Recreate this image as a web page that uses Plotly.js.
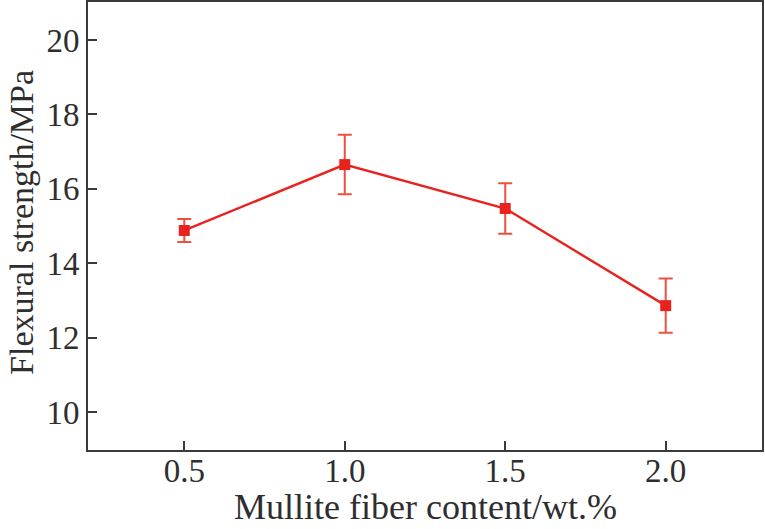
<!DOCTYPE html>
<html>
<head>
<meta charset="utf-8">
<script src="https://cdn.plot.ly/plotly-3.0.1.min.js"></script>
<style>
  html, body { margin: 0; padding: 0; background: #fff; }
  #chart { width: 765px; height: 529px; }
</style>
</head>
<body>
<div id="chart"></div>
<script>
// Flexural strength vs mullite fiber content, with error bars
const fiberContent = [0.5, 1.0, 1.5, 2.0];
const strength = [14.88, 16.65, 15.47, 12.86];
const strengthErr = [0.31, 0.80, 0.68, 0.73];
const xTicks = [0.5, 1.0, 1.5, 2.0];
const xTickText = ["0.5", "1.0", "1.5", "2.0"];
const yTicks = [10, 12, 14, 16, 18, 20];
const xTitle = "Mullite fiber content/wt.%";
const yTitle = "Flexural strength/MPa";

const LINE_RED = "#e8231f";
const ERR_RED = "#ee5040";
const AXIS = "#3a3a3a";
const TEXT = "#2e2e2e";
const SERIF = "Liberation Serif, Times New Roman, serif";

const trace = {
    x: fiberContent,
    y: strength,
    type: "scatter",
    mode: "lines+markers",
    line: { color: LINE_RED, width: 2.4 },
    marker: { symbol: "square", size: 11, color: LINE_RED },
    error_y: {
        type: "data",
        array: strengthErr,
        visible: true,
        color: ERR_RED,
        thickness: 2,
        width: 7,
    },
    hoverinfo: "x+y",
};

const axisCommon = {
    ticks: "inside",
    ticklen: 9,
    tickwidth: 2,
    tickcolor: AXIS,
    showline: true,
    linecolor: AXIS,
    linewidth: 2,
    mirror: true,
    showgrid: false,
    zeroline: false,
    tickfont: { family: SERIF, size: 33, color: TEXT },
};

const layout = {
    width: 765,
    height: 529,
    paper_bgcolor: "#ffffff",
    plot_bgcolor: "#ffffff",
    margin: { t: 2, b: 79, l: 88, r: 3 },
    showlegend: false,
    font: { family: SERIF, color: TEXT, size: 33 },
    xaxis: {
        ...axisCommon,
        range: [0.2, 2.3],
        tickvals: xTicks,
        ticktext: xTickText,
        ticklabelstandoff: -10,
    },
    yaxis: {
        ...axisCommon,
        range: [8.98, 21.02],
        tickvals: yTicks,
    },
    // axis titles placed as annotations so they sit where the reference has them
    annotations: [
        {
            text: xTitle,
            xref: "paper", yref: "paper",
            x: 0.5, y: -0.127,
            xanchor: "center", yanchor: "middle",
            showarrow: false,
            font: { family: SERIF, size: 36, color: TEXT },
        },
        {
            text: yTitle,
            xref: "paper", yref: "paper",
            x: -0.098, y: 0.509,
            xanchor: "center", yanchor: "middle",
            textangle: -90,
            borderpad: 0,
            showarrow: false,
            font: { family: SERIF, size: 34, color: TEXT },
        },
    ],
};

Plotly.newPlot("chart", [trace], layout, { displayModeBar: false, staticPlot: true });
</script>
</body>
</html>
